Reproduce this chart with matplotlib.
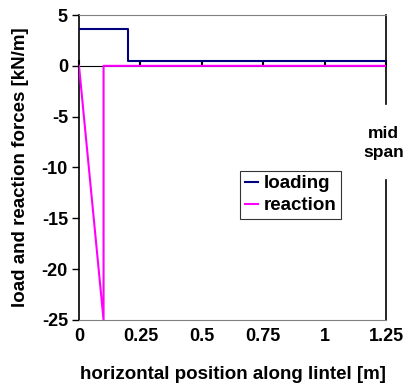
import matplotlib
matplotlib.use("Agg")
import matplotlib.pyplot as plt

plt.rcParams['font.family'] = ['Liberation Sans', 'DejaVu Sans']
plt.rcParams['font.weight'] = 'bold'
plt.rcParams['axes.unicode_minus'] = False

# loading and reaction along the lintel
x_load = [0, 0.2, 0.2, 1.25]
y_load = [3.6, 3.6, 0.45, 0.45]
x_reac = [0, 0.1, 0.1, 1.25]
y_reac = [0, -25, 0, 0]
xticks = [0, 0.25, 0.5, 0.75, 1, 1.25]
xticklabels = ['0', '0.25', '0.5', '0.75', '1', '1.25']
yticks = [5, 0, -5, -10, -15, -20, -25]

fig = plt.figure(figsize=(4.07, 3.88), dpi=100)
ax = fig.add_axes([79/407, 1-320/388, 307/407, 305/388])

ax.plot(x_load, y_load, color='#000080', lw=1.5, label='loading', zorder=3)
ax.plot(x_reac, y_reac, color='#ff00ff', lw=1.5, label='reaction', zorder=3)

ax.set_xlim(0, 1.25)
ax.set_ylim(-25, 5)
ax.set_xticks(xticks)
ax.set_xticklabels(xticklabels)
ax.set_yticks(yticks)
ax.tick_params(axis='x', length=0, pad=6, labelsize=13)
ax.tick_params(axis='y', length=5, width=1, direction='out', labelsize=13, pad=3)

ax.spines['top'].set_color('#808080')
ax.spines['bottom'].set_color('#808080')
ax.spines['right'].set_visible(False)
ax.spines['left'].set_linewidth(1.2)

# zero axis with tick marks
sec = ax.secondary_xaxis(25/30)
sec.set_xticks(xticks)
sec.tick_params(axis='x', length=4, width=1.5, direction='out',
                labelbottom=False, labeltop=False)
sec.spines['bottom'].set_color('black')
sec.spines['bottom'].set_linewidth(1.2)

# mid span line, broken by text
ax.plot([1.25, 1.25], [5, -3.8], color='black', lw=1.2, clip_on=False)
ax.plot([1.25, 1.25], [-11.2, -25], color='black', lw=1.2, clip_on=False)
ax.text(1.24, -7.6, 'mid\nspan', ha='center', va='center', fontsize=12.5,
        fontweight='bold', linespacing=1.35)

ax.set_xlabel('horizontal position along lintel [m]', fontsize=13.5, fontweight='bold', labelpad=15)
ax.set_ylabel('load and reaction forces [kN/m]', fontsize=13.5, fontweight='bold', labelpad=9)

leg = ax.legend(loc='upper left', bbox_to_anchor=(0.524, 0.49), fontsize=13.5,
                frameon=True, fancybox=False, edgecolor='black', handlelength=0.7,
                handletextpad=0.3, borderpad=0.25, labelspacing=0.25, borderaxespad=0)
leg.get_frame().set_linewidth(0.8)
for t in leg.get_texts():
    t.set_fontweight('bold')

fig.savefig('out.png', dpi=100)
